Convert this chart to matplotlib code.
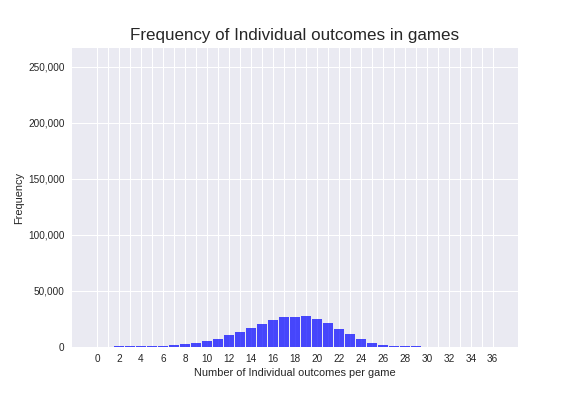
import matplotlib
matplotlib.use("Agg")
import matplotlib.pyplot as plt
from matplotlib.ticker import FuncFormatter
import numpy as np

outcomes = list(range(0, 37))
frequency = [0, 0, 800, 800, 800, 800, 900, 1800, 2700, 3600,
             5400, 7100, 10700, 13400, 17000, 20500, 24100, 26800, 26800, 27700,
             25000, 21400, 16100, 11600, 7100, 3600, 1800, 900, 900, 900,
             0, 0, 0, 0, 0, 0, 0]
tick_labels = [str(v) if v % 2 == 0 else "" for v in outcomes]

plt.rcParams['font.family'] = ['Liberation Sans', 'DejaVu Sans']

fig = plt.figure(figsize=(8, 5.5), dpi=72)
ax = fig.add_axes([0.1245, 0.1245, 0.8993 - 0.1245, 0.878 - 0.1245])
ax.set_facecolor('#EAEAF2')
for s in ax.spines.values():
    s.set_visible(False)
ax.grid(True, color='white', linewidth=1)
ax.set_axisbelow(True)

ax.bar(outcomes, frequency, width=0.9, color='blue', alpha=0.7)
ax.set_xticks(outcomes)
ax.set_xticklabels(tick_labels)
ax.set_ylim(0, 266500)
ax.set_yticks([0, 50000, 100000, 150000, 200000, 250000])
ax.yaxis.set_major_formatter(FuncFormatter(lambda v, p: f"{int(v):,}"))
ax.tick_params(length=0, labelsize=10, colors='#262626', pad=7)

ax.set_xlabel("Number of Individual outcomes per game", fontsize=11, color='#262626')
ax.set_ylabel("Frequency", fontsize=11, color='#262626')
ax.set_title("Frequency of Individual outcomes in games", fontsize=17, color='#262626', pad=8)

fig.savefig("out.png", dpi=72)
